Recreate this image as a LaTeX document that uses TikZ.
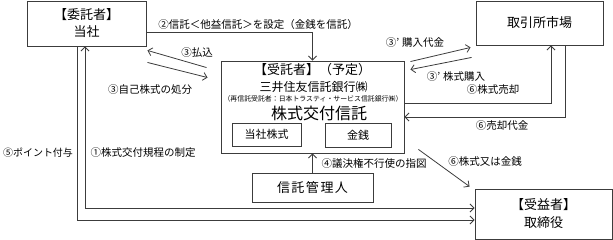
\documentclass[tikz,border=0pt]{standalone}
\usepackage{fontspec}
\setmainfont{Noto Sans CJK JP}
\usetikzlibrary{arrows.meta,calc}
\definecolor{ln}{RGB}{60,60,60}
\begin{document}
\begin{tikzpicture}[x=1pt,y=-1pt,
  box/.style={draw=ln,line width=0.9pt,inner sep=0pt,align=center,text=black},
  conn/.style={draw=ln,line width=0.8pt,-{Straight Barb[length=4pt,width=8pt]}},
  lbl/.style={inner sep=0pt,font=\fontsize{10.5}{12}\selectfont},
  ]
\useasboundingbox (0,0) rectangle (613,240);
% helper coordinates
\coordinate (y32) at (0,32);
\coordinate (y103) at (0,103);
\coordinate (y117) at (0,117);
\coordinate (y208) at (0,208);
\coordinate (y220) at (0,220);
\coordinate (x551) at (551,0);
\coordinate (x565) at (565,0);
\coordinate (x77) at (77,0);
\coordinate (x85) at (85,0);
% boxes
\node[box,minimum width=119pt,minimum height=45pt,font=\fontsize{13}{17}\selectfont] (itaku) at (86.5,23.5) {【委託者】\\当社};
\node[box,minimum width=127pt,minimum height=44pt,font=\fontsize{13}{16}\selectfont] (market) at (539.5,23) {取引所市場};
\node[box,minimum width=183pt,minimum height=92pt] (trust) at (312.5,107) {};
\node[lbl,font=\fontsize{13}{16}\selectfont] (t1) at (312.5,70) {【受託者】（予定）};
\node[lbl,font=\fontsize{12}{14}\selectfont] (t2) at (313.5,87) {三井住友信託銀行㈱};
\node[lbl,font=\fontsize{6.9}{8}\selectfont] (t3) at (313,99) {（再信託受託者：日本トラスティ・サービス信託銀行㈱）};
\node[lbl,font=\fontsize{16}{18}\selectfont] (t4) at (319,113) {株式交付信託};
\node[box,minimum width=69pt,minimum height=23pt,font=\fontsize{11}{13}\selectfont] (stock) at (266.5,134.5) {当社株式};
\node[box,minimum width=66pt,minimum height=24pt,font=\fontsize{11}{13}\selectfont] (money) at (358,135) {金銭};
\node[box,minimum width=121pt,minimum height=29pt,font=\fontsize{13}{16}\selectfont] (kanri) at (312.5,187.5) {信\hspace{1.5pt}託\hspace{1.5pt}管\hspace{1.5pt}理\hspace{1.5pt}人};
\node[box,minimum width=137pt,minimum height=50pt,font=\fontsize{13}{18}\selectfont] (jueki) at (543.5,214) {【受益者】\\取締役};
% connectors
\draw[conn] (itaku.east |- y32) -| (trust.north);
\node[lbl] (l2) at (258,25) {②信託＜他益信託＞を設定（金銭を信託）};
\draw[conn] ($(trust.north west)+(-14,7)$) -- ($(itaku.south east)+(1,4)$);
\node[lbl] (l3a) at (197,53) {③払込};
\draw[conn] ($(itaku.south east)+(1,16)$) -- ($(trust.north west)+(-13,17)$);
\node[lbl] (l3b) at (150,90) {③自己株式の処分};
\draw[conn] ($(trust.north east)+(6,1)$) -- ($(market.south west)+(-5,2)$);
\node[lbl] (l3c) at (415,43) {③’\hspace{3pt}購入代金};
\draw[conn] ($(market.south west)+(-4,12)$) -- ($(trust.north east)+(6,9)$);
\node[lbl] (l3d) at (456,77) {③’\hspace{3pt}株式購入};
\draw[conn] (trust.east |- y103) -| (x551 |- market.south);
\node[lbl] (l6a) at (493,90) {⑥株式売却};
\draw[conn] (x565 |- market.south) |- (trust.east |- y117);
\node[lbl] (l6b) at (502,126) {⑥売却代金};
\draw[conn] ($(trust.south east)+(14,-4)$) -- ($(jueki.north west)+(-5,-2)$);
\node[lbl] (l6c) at (485,162) {⑥株式又は金銭};
\draw[conn] (kanri.north) -- (trust.south);
\node[lbl] (l4) at (374,164) {④議決権不行使の指図};
\draw[conn,{Straight Barb[length=4pt,width=8pt]}-{Straight Barb[length=4pt,width=8pt]}] (x85 |- itaku.south) |- (jueki.west |- y208);
\node[lbl] (l1) at (143,153) {①株式交付規程の制定};
\draw[conn] (x77 |- itaku.south) |- (jueki.west |- y220);
\node[lbl,font=\fontsize{10}{12}\selectfont] (l5) at (38,153) {⑤ポイント付与};
\end{tikzpicture}
\end{document}
